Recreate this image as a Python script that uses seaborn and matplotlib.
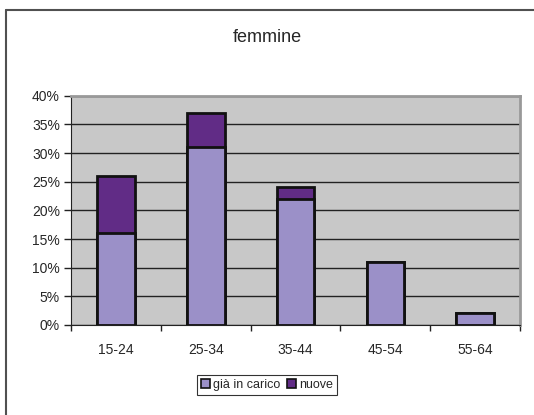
import numpy as np
import pandas as pd
import matplotlib
matplotlib.use("Agg")
import matplotlib.pyplot as plt
import seaborn as sns
from matplotlib.lines import Line2D
from matplotlib.patches import Patch
from matplotlib.ticker import FixedLocator, PercentFormatter

sns.set_style("white")
plt.rcParams["font.family"] = ["Liberation Sans", "DejaVu Sans"]

fasce = ["15-24", "25-34", "35-44", "45-54", "55-64"]
gia_in_carico = [16, 31, 22, 11, 2]
nuove = [10, 6, 2, 0, 0]

col_gia = "#9B90C8"
col_nuove = "#612C86"

df = pd.DataFrame({"fascia": fasce, "gia": gia_in_carico, "nuove": nuove})
df["totale"] = df["gia"] + df["nuove"]

fig = plt.figure(figsize=(5.34, 4.15), dpi=100)
ax = fig.add_axes([0.133, 0.217, 0.841, 0.552])

# stacked: total first, then the base on top of it
sns.barplot(data=df, x="fascia", y="totale", color=col_nuove, width=0.42,
            edgecolor="#111111", linewidth=2, saturation=1, ax=ax)
sns.barplot(data=df, x="fascia", y="gia", color=col_gia, width=0.42,
            edgecolor="#111111", linewidth=2, saturation=1, ax=ax)
for p in ax.patches:
    p.set_zorder(3)

ax.set_facecolor("#C8C8C8")
ax.set_ylim(0, 40)
ax.set_xlim(-0.5, 4.5)
ax.set_yticks(np.arange(0, 41, 5))
ax.yaxis.set_major_formatter(PercentFormatter(decimals=0))
ax.grid(axis="y", color="#222222", linewidth=1, zorder=0)
ax.set_axisbelow(True)
ax.set_xlabel("")
ax.set_ylabel("")

ax.tick_params(axis="x", length=0, labelsize=10, pad=13)
ax.tick_params(axis="y", direction="out", length=5, width=1, color="#222222", labelsize=10, pad=3, left=True)
ax.xaxis.set_minor_locator(FixedLocator(np.arange(-0.5, 5, 1)))
ax.tick_params(axis="x", which="minor", direction="out", length=4, width=1, color="#222222", bottom=True)

for side in ["top", "right"]:
    ax.spines[side].set_color("#999999")
    ax.spines[side].set_linewidth(2)
ax.spines["left"].set_color("#222222")
ax.spines["bottom"].set_color("#222222")

fig.text(0.5, 0.91, "femmine", ha="center", va="center", fontsize=13)

handles = [Patch(facecolor=col_gia, edgecolor="#111111", linewidth=1.2),
           Patch(facecolor=col_nuove, edgecolor="#111111", linewidth=1.2)]
leg = fig.legend(handles, ["già in carico", "nuove"], loc="center", bbox_to_anchor=(0.5, 0.072),
                 ncol=2, fontsize=9, frameon=True, fancybox=False, handlelength=0.7,
                 handleheight=0.7, handletextpad=0.2, columnspacing=0.6, borderpad=0.35,
                 borderaxespad=0)
leg.get_frame().set_edgecolor("#000000")
leg.get_frame().set_linewidth(0.8)

# outer chart frame: only top and left edges are visible
fig.add_artist(Line2D([0.011, 1.0], [0.977, 0.977], transform=fig.transFigure,
                      color="#505050", linewidth=1.5))
fig.add_artist(Line2D([0.011, 0.011], [0.0, 0.977], transform=fig.transFigure,
                      color="#505050", linewidth=1.5))

fig.savefig("out.png", dpi=100)
